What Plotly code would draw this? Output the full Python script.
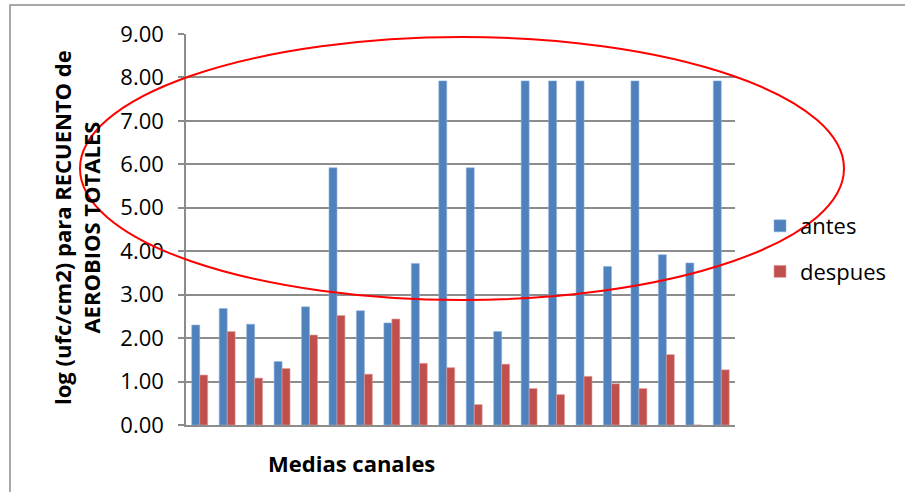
import plotly.graph_objects as go

# Twenty sampled carcass halves, aerobic plate count before/after treatment
categories = [str(i) for i in range(1, 21)]
antes = [2.30, 2.68, 2.32, 1.46, 2.72, 5.92, 2.63, 2.35, 3.72, 7.92,
         5.92, 2.15, 7.92, 7.92, 7.92, 3.65, 7.92, 3.92, 3.73, 7.92]
despues = [1.15, 2.15, 1.08, 1.30, 2.07, 2.52, 1.17, 2.44, 1.42, 1.32,
           0.47, 1.40, 0.84, 0.70, 1.12, 0.95, 0.84, 1.62, 0.00, 1.27]
y_ticks = [0, 1, 2, 3, 4, 5, 6, 7, 8, 9]

FONT = "Open Sans"
GRID = "#8c8c8c"

# plot-area geometry in pixels (used to place paper-referenced extras)
W, H = 905, 492
L, R, T, B = 186, 170, 34, 67
PW, PH = W - L - R, H - T - B


def px(x):
    return (x - L) / PW


def py(y):
    return (H - B - y) / PH


fig = go.Figure()
fig.add_trace(go.Bar(x=categories, y=antes, name="antes", legendgroup="a",
                     marker=dict(color="#4F81BD", line=dict(color="#8fb0d8", width=0.6))))
fig.add_trace(go.Bar(x=categories, y=despues, name="despues", legendgroup="d",
                     marker=dict(color="#C0504D", line=dict(color="#e0a09e", width=0.6))))

fig.update_layout(
    width=W, height=H,
    margin=dict(l=L, r=R, t=T, b=B),
    paper_bgcolor="white", plot_bgcolor="white",
    barmode="group", bargap=0.42, bargroupgap=0,
    font=dict(family=FONT, size=22, color="black"),
    legend=dict(x=px(760), xanchor="left", y=py(205), yanchor="top",
                font=dict(family=FONT, size=22), tracegroupgap=14,
                bgcolor="rgba(0,0,0,0)"),
    xaxis=dict(showticklabels=False, ticks="", showgrid=False,
               showline=True, linecolor=GRID, linewidth=1.5),
    yaxis=dict(range=[0, 9], tickvals=y_ticks, tickformat=".2f",
               ticks="outside", ticklen=6, tickcolor=GRID, tickwidth=1.5,
               ticklabelstandoff=10,
               showgrid=True, gridcolor=GRID, gridwidth=1.5,
               showline=True, linecolor=GRID, linewidth=1.5,
               tickfont=dict(family=FONT, size=22), zeroline=False),
    annotations=[
        dict(text="log (ufc/cm2) para RECUENTO de<br>AEROBIOS TOTALES",
             xref="paper", yref="paper", x=px(76), y=py(228),
             xanchor="center", yanchor="middle", textangle=-90, showarrow=False,
             font=dict(family=FONT, size=22, color="black", weight="bold")),
        dict(text="Medias canales", xref="paper", yref="paper",
             x=px(351), y=py(463), xanchor="center", yanchor="middle",
             showarrow=False,
             font=dict(family=FONT, size=22, color="black", weight="bold")),
    ],
    shapes=[
        # chart frame
        dict(type="rect", xref="paper", yref="paper",
             x0=px(10), x1=px(915), y0=py(500), y1=py(5),
             line=dict(color="#8c8c8c", width=1.5), layer="below"),
        # highlight ellipse over the high pre-treatment counts
        dict(type="circle", xref="paper", yref="paper",
             x0=px(80), x1=px(844), y0=py(300), y1=py(37),
             line=dict(color="red", width=2)),
    ],
)

fig.write_html("out.html")
